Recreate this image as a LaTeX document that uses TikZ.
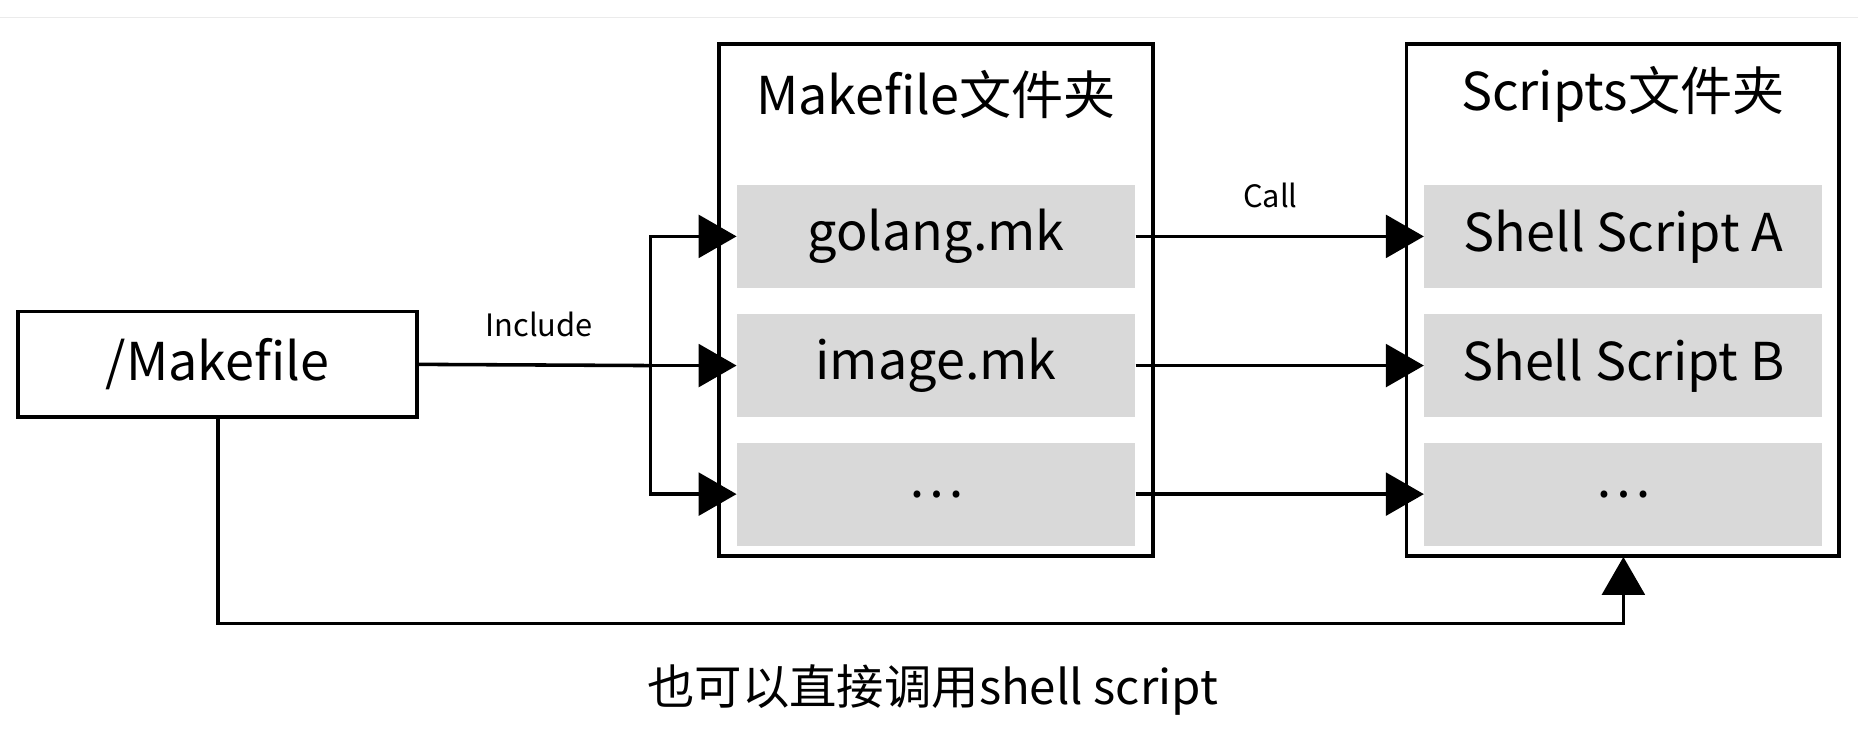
\documentclass[tikz,border=0pt]{standalone}
\usepackage{fontspec}
\setmainfont{Noto Sans CJK SC}
\usetikzlibrary{arrows.meta}
\begin{document}
\begin{tikzpicture}[x=0.5pt,y=-0.5pt,
  box/.style={draw,line width=1.5pt,fill=white},
  item/.style={fill=black!15,minimum width=168pt,minimum height=43.5pt,inner sep=0pt,font=\fontsize{22}{24}\selectfont},
  conn/.style={line width=1.5pt,-{Triangle[length=16pt,width=18pt]}},
  lbl/.style={font=\fontsize{13}{15}\selectfont}]
\useasboundingbox (0,0) rectangle (1568,621);
\draw[black!8,line width=0.5pt] (0,15) -- (1568,15);
\node[box,minimum width=168.5pt,minimum height=44.5pt,inner sep=0pt,font=\fontsize{22}{24}\selectfont] (mf) at (183.5,307.5) {/Makefile};
\node[box,minimum width=183pt,minimum height=216pt] (mfd) at (790,253) {};
\node[box,minimum width=182.5pt,minimum height=216pt] (scd) at (1369.5,253) {};
\node[font=\fontsize{22}{24}\selectfont] (t1) at (790,80) {Makefile文件夹};
\node[font=\fontsize{22}{24}\selectfont] (t2) at (1369.5,80) {Scripts文件夹};
\node[item] (g) at (790,199.5) {golang.mk};
\node[item] (i) at (790,308.5) {image.mk};
\node[item] (d1) at (790,417) {…};
\node[item] (a) at (1370,199.5) {Shell Script A};
\node[item] (b) at (1370,308.5) {Shell Script B};
\node[item] (d2) at (1370,417) {…};
\coordinate (br) at (549,308.5);
\draw[line width=1.5pt] (mf.east) -- (br);
\draw[conn] (br) -- (i.west);
\draw[conn] (br) |- (g.west);
\draw[conn] (br) |- (d1.west);
\draw[conn] (g.east) -- (a.west);
\draw[conn] (i.east) -- (b.west);
\draw[conn] (d1.east) -- (d2.west);
\node[lbl] (inc) at (455,274) {Include};
\node[lbl] (call) at (1072,165) {Call};
\draw[conn] (mf.south -| 184,0) |- (1370,526) -- (1370,470);
\node[font=\fontsize{20}{22}\selectfont] (bt) at (787,582) {也可以直接调用shell script};
\end{tikzpicture}
\end{document}
